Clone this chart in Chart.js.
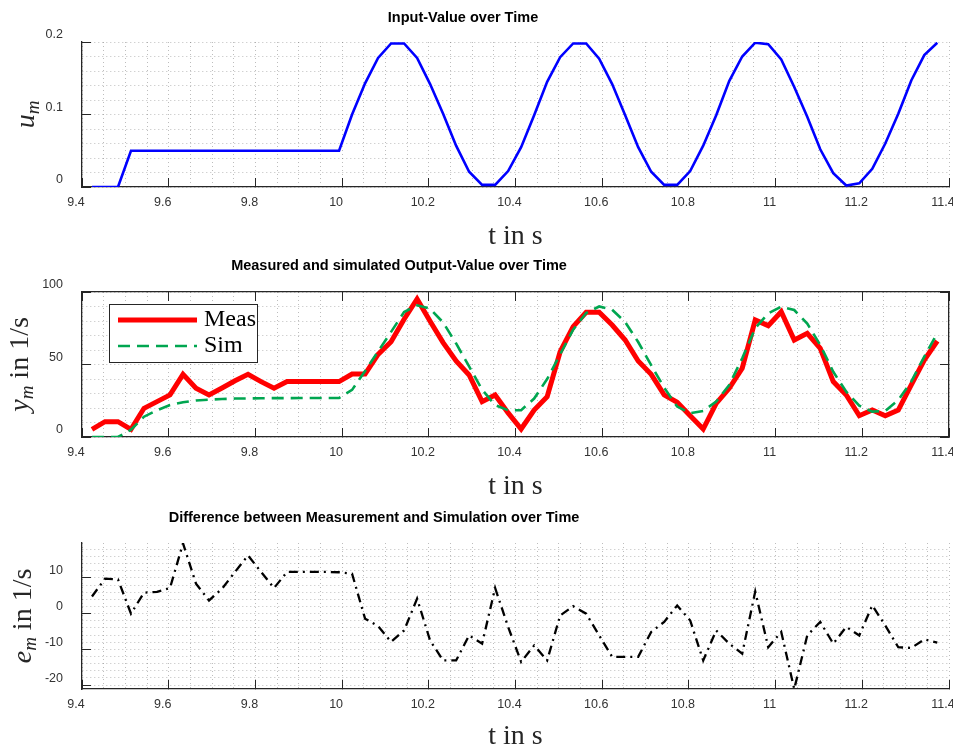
<!DOCTYPE html>
<html>
<head>
<meta charset="utf-8">
<title>Input, output and error over time</title>
<script src="https://cdn.jsdelivr.net/npm/chart.js@4.4.1/dist/chart.umd.min.js"></script>
<style>
  html, body { margin: 0; padding: 0; background: #fff; }
  canvas { display: block; }
</style>
</head>
<body>
<canvas id="plot_input" width="953" height="250"></canvas>
<canvas id="plot_output" width="953" height="250"></canvas>
<canvas id="plot_error" width="953" height="251"></canvas>
<script>
/* sample times in s (one sample every 30 ms) */
const time_s = [
  9.423, 9.453, 9.483, 9.513, 9.543, 9.573, 9.603, 9.633, 9.663, 9.693,
  9.723, 9.753, 9.783, 9.813, 9.843, 9.873, 9.903, 9.933, 9.963, 9.993,
  10.023, 10.053, 10.083, 10.113, 10.143, 10.173, 10.203, 10.233, 10.263, 10.293,
  10.323, 10.353, 10.383, 10.413, 10.443, 10.473, 10.503, 10.533, 10.563, 10.593,
  10.623, 10.653, 10.683, 10.713, 10.743, 10.773, 10.803, 10.833, 10.863, 10.893,
  10.923, 10.953, 10.983, 11.013, 11.043, 11.073, 11.103, 11.133, 11.163, 11.193,
  11.223, 11.253, 11.283, 11.313, 11.343, 11.373
];

/* input value u_m */
const input_u = [
  0, 0, 0, 0.05, 0.05, 0.05, 0.05, 0.05, 0.05, 0.05,
  0.05, 0.05, 0.05, 0.05, 0.05, 0.05, 0.05, 0.05, 0.05, 0.05,
  0.100, 0.143, 0.178, 0.198, 0.198, 0.178, 0.142, 0.101, 0.057, 0.021,
  0.003, 0.003, 0.022, 0.055, 0.099, 0.145, 0.179, 0.198, 0.198, 0.177,
  0.142, 0.099, 0.055, 0.021, 0.003, 0.003, 0.022, 0.057, 0.099, 0.146,
  0.180, 0.199, 0.197, 0.176, 0.138, 0.097, 0.052, 0.019, 0.002, 0.005,
  0.025, 0.060, 0.101, 0.147, 0.182, 0.199
];

/* measured output y_m in 1/s */
const output_meas = [
  5.3, 10.6, 10.6, 5.3, 19.8, 24.4, 29, 43.2, 33.6, 29,
  33.8, 38.8, 43.2, 38.2, 33.6, 38.2, 38.2, 38.2, 38.2, 38.2,
  43.4, 43.4, 57, 65.7, 81.2, 95.2, 79.8, 65.1, 52.4, 42.8,
  24.4, 29, 16.6, 5.5, 18.6, 27.8, 58.8, 76.1, 86, 86,
  77.2, 66.9, 52.4, 43.2, 29, 23.9, 14.7, 5.5, 23.2, 33.6,
  47.4, 80.7, 76.8, 86.4, 66.9, 71.5, 61.2, 38.2, 29, 14.7,
  18.6, 14.7, 18.6, 35.9, 53.1, 66.2
];

/* simulated output y_m in 1/s */
const output_sim = [
  0, 0, 0, 5, 14, 18.4, 22, 24, 25.2, 25.8,
  26.2, 26.5, 26.6, 26.7, 26.8, 26.8, 26.9, 26.9, 26.9, 26.9,
  32.5, 45.5, 59, 72.5, 86.2, 90.8, 88.5, 79, 64.5, 48.7,
  32.6, 22, 18.5, 18.5, 26.5, 40, 57, 74, 85.5, 90,
  87.8, 79.3, 65.5, 49.5, 34, 21, 16.4, 18, 24.4, 35.9,
  54.3, 75, 85.3, 89.9, 87.6, 78.2, 63.4, 45, 31.2, 21.6,
  17.5, 18, 25.5, 38.2, 55.4, 71.5
];

/* difference e_m in 1/s */
const error_e = [
  4.8, 9.8, 9.6, 0, 5.9, 6.1, 7.2, 19.7, 8.4, 3.7,
  7, 11.7, 16.3, 11.7, 7.2, 11.7, 11.7, 11.7, 11.7, 11.6,
  11.2, -1.4, -3.5, -7.9, -4.7, 4.2, -7.5, -13.1, -13.1, -6.1,
  -8.4, 7.2, -3.7, -13.5, -8.9, -13.1, -0.5, 2.1, 0, -6.1,
  -12.1, -12.1, -12.1, -5.1, -2.3, 2.3, -1.9, -13.1, -4.7, -8.4,
  -11.2, 6.2, -9.4, -5.1, -21.1, -6.1, -2.3, -8.4, -3.7, -6.1,
  2.3, -3.3, -9.4, -9.6, -7.2, -8.1
];

const axisColor = '#262626';
const tickTextColor = '#333333';
const gridColor = 'rgba(0, 0, 0, 0.26)';
const tickFont = { family: '"Liberation Sans", Arial, sans-serif', size: 12.5 };
const serif = '"Liberation Serif", "Times New Roman", serif';

function points(ys) {
  return time_s.map((t, i) => ({ x: t, y: ys[i] }));
}

function isMajor(v, step) {
  const k = Math.round(v / step);
  return Math.abs(v - k * step) < 1e-6;
}

function majorLabel(step) {
  return function (value) {
    if (!isMajor(value, step)) return '';
    return String(parseFloat((Math.round(value / step) * step).toFixed(6)));
  };
}

function majorTickColor(step) {
  return function (ctx) {
    return ctx.tick && isMajor(ctx.tick.value, step) ? axisColor : 'rgba(0,0,0,0)';
  };
}

/* fixes the size of an axis box so that every plot area lines up */
function fixBox(w, h) {
  return function (scale) {
    if (w !== null) scale.width = w;
    if (h !== null) scale.height = h;
    scale.paddingLeft = 0;
    scale.paddingRight = 0;
    scale.paddingTop = 0;
    scale.paddingBottom = 0;
  };
}

function timeAxis(height) {
  return {
    type: 'linear',
    position: 'bottom',
    min: 9.4,
    max: 11.4,
    afterFit: fixBox(null, height),
    ticks: {
      stepSize: 0.05,
      autoSkip: false,
      maxRotation: 0,
      minRotation: 0,
      padding: 17,
      labelOffset: -6,
      color: tickTextColor,
      font: tickFont,
      callback: majorLabel(0.2)
    },
    grid: {
      color: gridColor,
      lineWidth: 1,
      tickLength: -9,
      tickWidth: 1,
      tickColor: majorTickColor(0.2),
      tickBorderDash: []
    },
    border: { display: true, color: axisColor, width: 1.3, dash: [1, 3] }
  };
}

function valueAxis(min, max, minorStep, majorStep) {
  return {
    type: 'linear',
    position: 'left',
    min: min,
    max: max,
    afterFit: fixBox(82, null),
    ticks: {
      stepSize: minorStep,
      autoSkip: false,
      includeBounds: false,
      padding: 28,
      labelOffset: -7,
      color: tickTextColor,
      font: tickFont,
      callback: majorLabel(majorStep)
    },
    grid: {
      color: gridColor,
      lineWidth: 1,
      tickLength: -9,
      tickWidth: 1,
      tickColor: majorTickColor(majorStep),
      tickBorderDash: []
    },
    border: { display: true, color: axisColor, width: 1.3, dash: [1, 3] }
  };
}

/* title, x label and y label (with subscript) */
const figureText = {
  id: 'figureText',
  afterDraw(chart, args, opts) {
    const ctx = chart.ctx;
    const area = chart.chartArea;
    ctx.save();
    ctx.textBaseline = 'alphabetic';
    ctx.textAlign = 'center';
    ctx.fillStyle = '#000';
    ctx.font = 'bold 14.5px "Liberation Sans", Arial, sans-serif';
    ctx.fillText(opts.title, opts.titleX, opts.titleY);

    ctx.fillStyle = axisColor;
    ctx.font = '28px ' + serif;
    ctx.fillText(opts.xLabel, (area.left + area.right) / 2, opts.xLabelY);

    const parts = [
      { text: opts.yVar, font: 'italic 28px ' + serif, dy: 0 },
      { text: opts.ySub, font: 'italic 19px ' + serif, dy: 5 },
      { text: opts.yUnit, font: '28px ' + serif, dy: 0 }
    ];
    let total = 0;
    parts.forEach(p => { ctx.font = p.font; p.w = ctx.measureText(p.text).width; total += p.w; });
    ctx.translate(opts.yLabelX, (area.top + area.bottom) / 2);
    ctx.rotate(-Math.PI / 2);
    ctx.textAlign = 'left';
    let x = -total / 2;
    parts.forEach(p => {
      ctx.font = p.font;
      ctx.fillText(p.text, x, p.dy);
      x += p.w;
    });
    ctx.restore();
  }
};

/* boxed legend in the upper left of the plot area */
const boxLegend = {
  id: 'boxLegend',
  afterDraw(chart, args, opts) {
    if (!opts.show) return;
    const ctx = chart.ctx;
    ctx.save();
    ctx.fillStyle = '#fff';
    ctx.fillRect(opts.left, opts.top, opts.width, opts.height);
    ctx.strokeStyle = axisColor;
    ctx.lineWidth = 1;
    ctx.strokeRect(opts.left + 0.5, opts.top + 0.5, opts.width, opts.height);
    ctx.textAlign = 'left';
    ctx.textBaseline = 'middle';
    chart.data.datasets.forEach((ds, i) => {
      const y = opts.top + opts.firstRow + i * opts.rowGap;
      ctx.beginPath();
      ctx.setLineDash(ds.borderDash || []);
      ctx.strokeStyle = ds.borderColor;
      ctx.lineWidth = ds.borderWidth;
      ctx.moveTo(opts.left + 9, y);
      ctx.lineTo(opts.left + 88, y);
      ctx.stroke();
      ctx.setLineDash([]);
      ctx.fillStyle = '#000';
      ctx.font = '24px ' + serif;
      ctx.fillText(ds.label, opts.left + 95, y);
    });
    ctx.restore();
  }
};

const commonOptions = {
  responsive: false,
  animation: false,
  events: [],
  elements: { point: { radius: 0 }, line: { tension: 0 } },
  plugins: { legend: { display: false }, tooltip: { enabled: false } }
};

/* 1: input value */
const grafico_input = new Chart(document.getElementById('plot_input'), {
  type: 'line',
  data: {
    datasets: [{
      label: 'u',
      data: points(input_u),
      borderColor: 'rgb(0, 0, 255)',
      borderWidth: 2.6
    }]
  },
  options: {
    ...commonOptions,
    layout: { padding: { top: 42, right: 4, left: 0, bottom: 0 } },
    scales: {
      x: timeAxis(63),
      y: valueAxis(0, 0.2, 0.02, 0.1)
    },
    plugins: {
      ...commonOptions.plugins,
      figureText: {
        title: 'Input-Value over Time', titleX: 463, titleY: 22,
        xLabel: 't in s', xLabelY: 244,
        yVar: 'u', ySub: 'm', yUnit: '', yLabelX: 34
      }
    }
  },
  plugins: [figureText]
});

/* 2: measured and simulated output */
const grafico_output = new Chart(document.getElementById('plot_output'), {
  type: 'line',
  data: {
    datasets: [{
      label: 'Meas',
      data: points(output_meas),
      borderColor: 'rgb(255, 0, 0)',
      borderWidth: 5,
      order: 1
    }, {
      label: 'Sim',
      data: points(output_sim),
      borderColor: 'rgb(0, 166, 80)',
      borderWidth: 2.6,
      borderDash: [12, 7],
      order: 0
    }]
  },
  options: {
    ...commonOptions,
    layout: { padding: { top: 42, right: 4, left: 0, bottom: 0 } },
    scales: {
      x: timeAxis(63),
      y: valueAxis(0, 100, 10, 50),
      x2: {
        type: 'linear', position: 'top', min: 9.4, max: 11.4,
        afterFit: fixBox(null, 0),
        ticks: { display: false, stepSize: 0.2 },
        grid: { drawOnChartArea: false, tickLength: -9, tickColor: axisColor, tickWidth: 1 },
        border: { display: true, color: axisColor, width: 1.3 }
      },
      y2: {
        type: 'linear', position: 'right', min: 0, max: 100,
        afterFit: fixBox(0, null),
        ticks: { display: false, stepSize: 50 },
        grid: { drawOnChartArea: false, tickLength: -9, tickColor: axisColor, tickWidth: 1 },
        border: { display: true, color: axisColor, width: 1.3 }
      }
    },
    plugins: {
      ...commonOptions.plugins,
      figureText: {
        title: 'Measured and simulated Output-Value over Time', titleX: 399, titleY: 20,
        xLabel: 't in s', xLabelY: 244,
        yVar: 'y', ySub: 'm', yUnit: ' in 1/s', yLabelX: 28
      },
      boxLegend: { show: true, left: 109, top: 54, width: 148, height: 58, firstRow: 16, rowGap: 26 }
    }
  },
  plugins: [figureText, boxLegend]
});

/* 3: difference between measurement and simulation */
const grafico_error = new Chart(document.getElementById('plot_error'), {
  type: 'line',
  data: {
    datasets: [{
      label: 'e',
      data: points(error_e),
      borderColor: '#000',
      borderWidth: 2.3,
      borderDash: [9, 5, 2, 5]
    }]
  },
  options: {
    ...commonOptions,
    layout: { padding: { top: 43, right: 4, left: 0, bottom: 0 } },
    scales: {
      x: timeAxis(62),
      y: valueAxis(-21.1, 19.8, 2, 10)
    },
    plugins: {
      ...commonOptions.plugins,
      figureText: {
        title: 'Difference between Measurement and Simulation over Time', titleX: 374, titleY: 22,
        xLabel: 't in s', xLabelY: 244,
        yVar: 'e', ySub: 'm', yUnit: ' in 1/s', yLabelX: 31
      }
    }
  },
  plugins: [figureText]
});
</script>
</body>
</html>
